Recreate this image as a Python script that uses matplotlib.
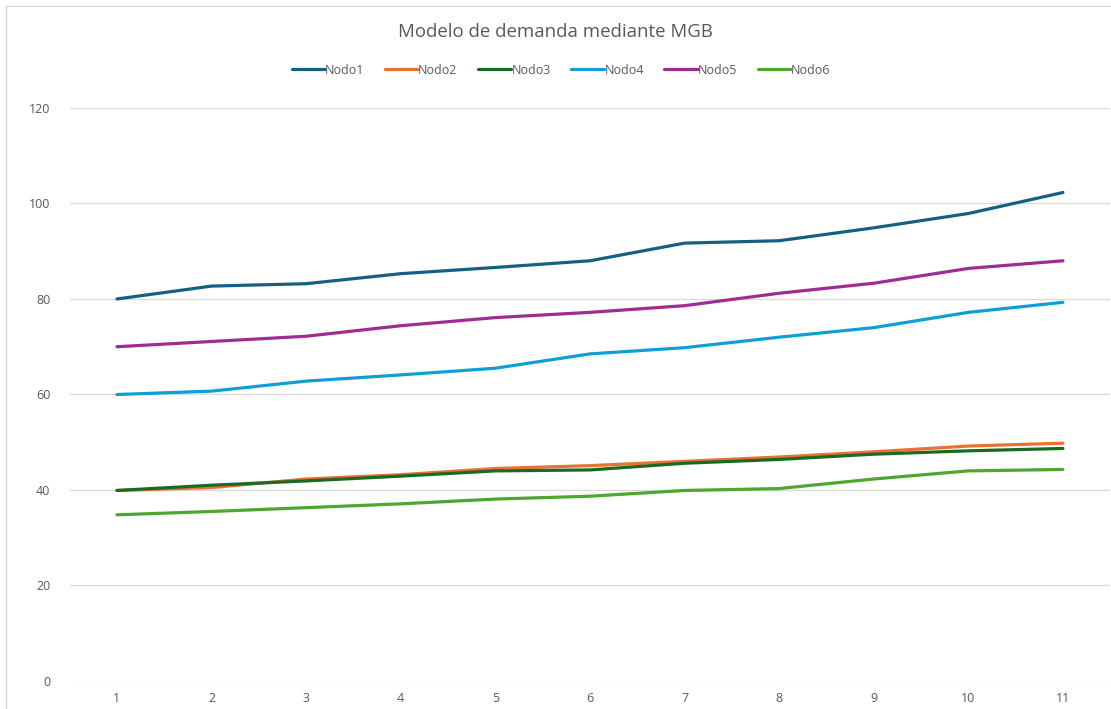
import matplotlib.pyplot as plt
from matplotlib.patches import Rectangle

periods = list(range(1, 12))
nodo1 = [80.0, 82.7, 83.2, 85.3, 86.6, 88.0, 91.7, 92.2, 94.9, 97.9, 102.3]
nodo2 = [39.9, 40.5, 42.3, 43.2, 44.5, 45.1, 46.0, 46.9, 48.0, 49.2, 49.8]
nodo3 = [39.9, 41.0, 41.9, 42.9, 44.0, 44.2, 45.6, 46.4, 47.5, 48.2, 48.7]
nodo4 = [60.0, 60.7, 62.8, 64.1, 65.5, 68.5, 69.8, 72.0, 74.0, 77.2, 79.3]
nodo5 = [70.0, 71.1, 72.2, 74.4, 76.1, 77.2, 78.6, 81.2, 83.3, 86.4, 88.0]
nodo6 = [34.8, 35.5, 36.3, 37.1, 38.1, 38.7, 39.9, 40.3, 42.3, 44.0, 44.3]

series = [("Nodo1", nodo1, "#156082"), ("Nodo2", nodo2, "#E97132"),
          ("Nodo3", nodo3, "#196B24"), ("Nodo4", nodo4, "#0F9ED5"),
          ("Nodo5", nodo5, "#A02B93"), ("Nodo6", nodo6, "#4EA72E")]

plt.rcParams["font.family"] = ["Open Sans", "DejaVu Sans"]
text_gray = "#595959"

fig = plt.figure(figsize=(11.11, 7.09), dpi=100)
ax = fig.add_axes([0.0627, 0.0395, 0.9366, 0.8082])

for name, vals, col in series:
    ax.plot(periods, vals, color=col, linewidth=2.3, label=name,
            solid_capstyle="round", solid_joinstyle="round")

ax.set_xlim(0.5, 11.5)
ax.set_ylim(0, 120)
ax.set_yticks(range(0, 121, 20))
ax.set_xticks(periods)
ax.grid(axis="y", color="#D9D9D9", linewidth=0.9)
ax.set_axisbelow(True)
for s in ax.spines.values():
    s.set_visible(False)
ax.tick_params(length=0, colors=text_gray, labelsize=9)
ax.tick_params(axis="y", pad=14)
ax.tick_params(axis="x", pad=8)

fig.text(0.5, 0.955, "Modelo de demanda mediante MGB", ha="center", va="center",
         fontsize=13.4, color=text_gray)
fig.legend(loc="center", bbox_to_anchor=(0.505, 0.901), ncol=6, frameon=False,
           fontsize=9, handlelength=2.65, handletextpad=0.0, columnspacing=1.65,
           labelcolor=text_gray)

# chart area border
fig.patches.append(Rectangle((5.5 / 1111, -0.1), 1.2, 1.1 - 5.5 / 709,
                             transform=fig.transFigure, fill=False,
                             edgecolor="#D9D9D9", linewidth=1.0))

fig.savefig("out.png", dpi=100, facecolor="white")
